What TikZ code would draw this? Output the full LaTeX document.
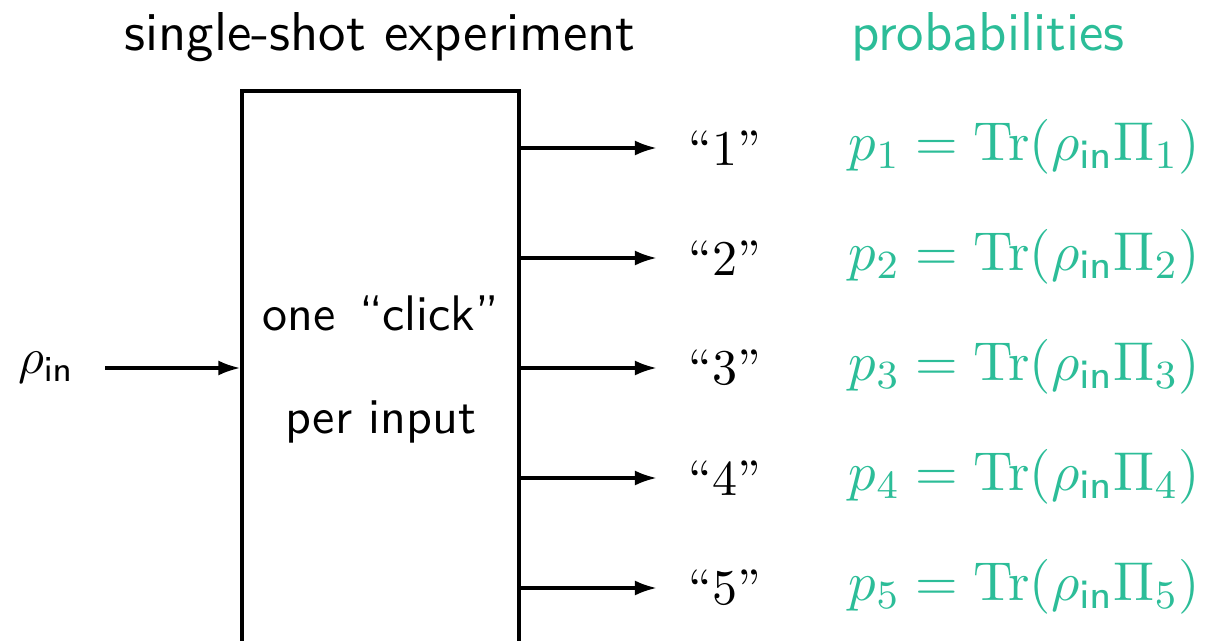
\documentclass[tikz,border=0pt]{standalone}
\usetikzlibrary{arrows.meta}
\definecolor{probteal}{RGB}{44,189,152}
\begin{document}
\begin{tikzpicture}[x=0.2pt,y=-0.2pt,
  every node/.style={inner sep=0pt, font=\fontsize{10.95}{13.6}\selectfont\sffamily},
  small/.style={font=\fontsize{10}{12}\selectfont\sffamily},
  frame/.style={draw, line width=0.65pt, minimum width=55.4pt, minimum height=124pt},
  arr/.style={line width=0.65pt, -{Latex[length=4.4pt,width=3pt]}},
  outlab/.style={font=\fontsize{10}{12}\selectfont\rmfamily},
  prob/.style={text=probteal, anchor=base west}]
\useasboundingbox (0,0) rectangle (1205,641);
\clip (0,0) rectangle (1205,641);

% headings
\node[anchor=base] (title) at (380,50) {single-shot experiment};
\node[anchor=base, text=probteal] (probs) at (988,50) {probabilities};

% measurement box (runs off the bottom edge)
\node[frame] (box) at (380.5,401) {};
\node[small, anchor=base] (l1) at (381,330) {one\hspace{4.6pt}``click''};
\node[small, anchor=base] (l2) at (381,433) {per input};

% input state
\node[small, anchor=west] (rho) at (17,368) {$\rho_{\mathsf{in}}$};
\draw[arr] ([xshift=6pt]rho.east) -- (box.west |- rho);

% outcomes and their probabilities
\foreach \k [evaluate=\k as \ya using 148+110*(\k-1),
             evaluate=\k as \yb using 160+110*(\k-1)] in {1,...,5} {
  \node[outlab] (q\k) at (725,\ya) {``\k''};
  \draw[arr] (box.east |- q\k) -- ([xshift=-6.2pt]q\k.west);
  \node[prob] (p\k) at (848,\yb) {$p_{\k} = \mathrm{Tr}(\rho_{\mathsf{in}}\Pi_{\k})$};
}
\end{tikzpicture}
\end{document}
